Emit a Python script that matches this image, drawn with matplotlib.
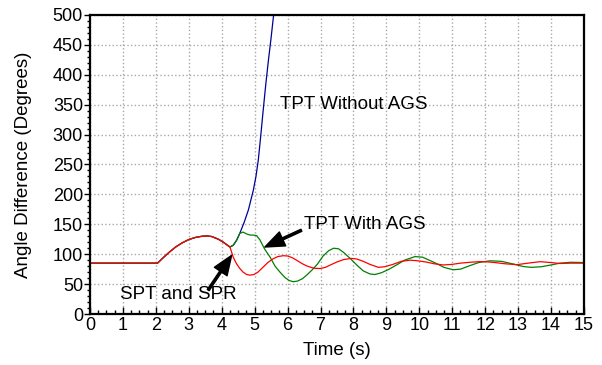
import matplotlib.pyplot as plt
from matplotlib.ticker import MultipleLocator

plt.rcParams['font.family'] = ['Liberation Sans', 'DejaVu Sans']

# shared pre-disturbance swing (all three cases overlap here)
t_common = [0, 2.05, 2.2, 2.4, 2.6, 2.8, 3.0, 3.2, 3.4, 3.55, 3.7, 3.9, 4.05, 4.2]
v_common = [85, 85, 93, 103, 112, 119, 124.5, 128, 130, 130.5, 129.5, 125, 120, 114]

# TPT without AGS - goes unstable
t_blue = [4.25, 4.35, 4.45, 4.55, 4.68, 4.81, 4.96, 5.04, 5.11, 5.18, 5.26, 5.34,
          5.42, 5.5, 5.57, 5.62]
v_blue = [112, 115, 123, 135, 153, 174, 207, 230, 257, 295, 341, 385,
          425, 462, 497, 525]

# TPT with AGS
t_green = [4.25, 4.35, 4.45, 4.55, 4.65, 4.75, 4.86, 4.96, 5.06, 5.16, 5.31, 5.47,
           5.62, 5.77, 5.92, 6.05, 6.17, 6.3, 6.45, 6.58, 6.75, 6.9, 7.08, 7.25,
           7.4, 7.55, 7.7, 7.9, 8.1, 8.3, 8.5, 8.65, 8.85, 9.05, 9.31, 9.55,
           9.87, 10.1, 10.3, 10.5, 10.75, 11.03, 11.25, 11.54, 11.8, 12.15, 12.5,
           12.9, 13.15, 13.4, 13.7, 14.0, 14.27, 14.6, 15.0]
v_green = [112, 115, 123, 135, 137, 134, 132, 132, 131, 124, 108, 95,
           80, 70, 61, 56, 54, 55, 59, 65, 74, 83, 97, 106,
           110, 109, 103, 93, 82, 72, 67, 66, 69, 74, 82, 90,
           96, 95, 90, 85, 78, 74, 75, 81, 86, 89, 88,
           83, 79.5, 78, 79, 82, 85, 86.5, 86]

# SPT and SPR
t_red = [4.25, 4.35, 4.45, 4.55, 4.65, 4.76, 4.86, 4.98, 5.1, 5.25, 5.4, 5.55,
         5.7, 5.87, 6.0, 6.15, 6.3, 6.45, 6.6, 6.8, 6.98, 7.15, 7.3, 7.5,
         7.7, 7.94, 8.1, 8.3, 8.5, 8.76, 8.95, 9.2, 9.45, 9.72, 9.95, 10.2,
         10.45, 10.73, 11.0, 11.24, 11.54, 11.8, 12.0, 12.3, 12.6, 12.96, 13.3,
         13.67, 14.0, 14.27, 14.6, 15.0]
v_red = [112, 95, 84, 76, 70, 66, 65, 66, 70, 78, 86, 92,
         96, 97.5, 97, 94, 89, 84, 80, 76.5, 76, 78, 82, 87,
         91, 93, 92, 88, 83, 78, 79, 83, 88, 90, 89, 87,
         84, 82, 83, 85, 86.5, 87.5, 87.5, 86, 84, 82.5, 85,
         87.5, 86, 84.5, 85, 85]

fig = plt.figure(figsize=(6.02, 3.65), dpi=100)
ax = fig.add_axes([0.1495, 0.1397, 0.8205, 0.8193])

ax.plot(t_common + t_blue, v_common + v_blue, color='#000099', lw=0.9)
ax.plot(t_common + t_green, v_common + v_green, color='#008000', lw=0.9)
ax.plot(t_common + t_red, v_common + v_red, color='#ff0000', lw=0.9)

ax.set_xlim(0, 15)
ax.set_ylim(0, 500)
ax.xaxis.set_major_locator(MultipleLocator(1))
ax.xaxis.set_minor_locator(MultipleLocator(0.25))
ax.yaxis.set_major_locator(MultipleLocator(50))
ax.yaxis.set_minor_locator(MultipleLocator(10))
ax.tick_params(axis='x', which='major', direction='in', length=5, width=1, labelsize=13, pad=2)
ax.tick_params(axis='x', which='minor', direction='in', length=3, width=1)
ax.tick_params(axis='y', which='major', direction='out', length=4, width=1, labelsize=13, pad=1)
ax.tick_params(axis='y', which='minor', direction='out', length=2.5, width=1)
for s in ax.spines.values():
    s.set_linewidth(1.6)

ax.grid(True, which='major', color='#a8a8a8', linestyle=':', linewidth=1)
ax.set_axisbelow(True)

ax.set_xlabel('Time (s)', fontsize=13.5, labelpad=6)
ax.set_ylabel('Angle Difference (Degrees)', fontsize=13.5)
ax.yaxis.set_label_coords(-0.117, 0.5)

arrow = dict(facecolor='black', edgecolor='black', width=1.6, headwidth=11, headlength=14, shrink=0)
ax.text(5.77, 350, 'TPT Without AGS', fontsize=13.5, va='center', ha='left')
ax.text(6.5, 150, 'TPT With AGS', fontsize=13.5, va='center', ha='left')
ax.annotate('', xy=(5.31, 112), xytext=(6.42, 140), arrowprops=arrow)
ax.text(0.91, 32, 'SPT and SPR', fontsize=13.5, va='center', ha='left')
ax.annotate('', xy=(4.3, 98), xytext=(3.59, 40), arrowprops=arrow)

fig.savefig('out.png', dpi=100)
